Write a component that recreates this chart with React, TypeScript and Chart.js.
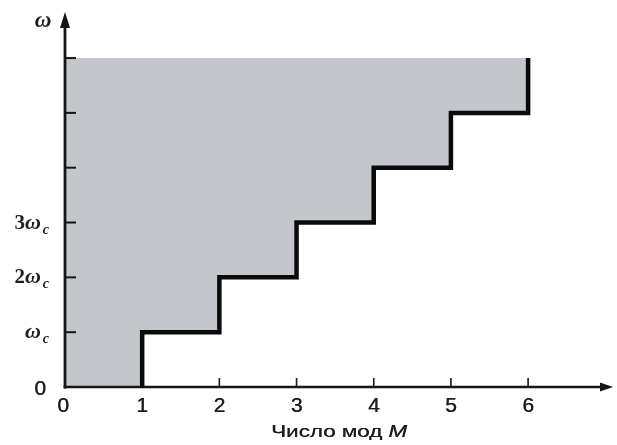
import React, { useEffect, useRef } from 'react';
import { Chart, registerables } from 'chart.js';

Chart.register(...registerables);

// ---- data ----
const modeTickValues = [0, 1, 2, 3, 4, 5, 6];
const modeTickLabels = ['0', '1', '2', '3', '4', '5', '6'];
const freqTickValues = [1, 2, 3, 4, 5, 6];
const freqLabelValues = [0, 1, 2, 3];
const freqLabels = ['0', 'ω_c', '2ω_c', '3ω_c'];
// staircase: number of modes M vs cutoff frequency (units of ω_c)
const stairModes = [1, 1, 2, 2, 3, 3, 4, 4, 5, 5, 6, 6];
const stairFreqs = [0, 1, 1, 2, 2, 3, 3, 4, 4, 5, 5, 6];
const freqTop = 6;
const modeAxisMax = 7.1;
const freqAxisMax = 6.84;
const xTitle = 'Число мод ';
const xTitleVar = 'M';
const yTitle = 'ω';

const INK = '#161616';

const axesPlugin = {
  id: 'axesArrows',
  afterDatasetsDraw(chart: any) {
    const { ctx, chartArea, scales } = chart;
    const x = scales.x;
    const y = scales.y;
    const x0 = x.getPixelForValue(0);
    const y0 = y.getPixelForValue(0);
    ctx.save();
    ctx.strokeStyle = INK;
    ctx.fillStyle = INK;
    ctx.lineWidth = 2;
    freqTickValues.forEach((v) => {
      const py = y.getPixelForValue(v);
      ctx.beginPath();
      ctx.moveTo(x0, py);
      ctx.lineTo(x0 + 11, py);
      ctx.stroke();
    });
    ctx.lineWidth = 1.6;
    modeTickValues.slice(1).forEach((v) => {
      const px = x.getPixelForValue(v);
      ctx.beginPath();
      ctx.moveTo(px, y0);
      ctx.lineTo(px, y0 - 9);
      ctx.stroke();
    });
    ctx.lineWidth = 2.8;
    ctx.beginPath();
    ctx.moveTo(x0, y0 + 1.4);
    ctx.lineTo(x0, chartArea.top + 10);
    ctx.stroke();
    ctx.lineWidth = 2.4;
    ctx.beginPath();
    ctx.moveTo(x0 - 1.4, y0);
    ctx.lineTo(chartArea.right - 8, y0);
    ctx.stroke();
    ctx.beginPath();
    ctx.moveTo(x0, chartArea.top);
    ctx.lineTo(x0 - 5, chartArea.top + 16);
    ctx.lineTo(x0 + 5, chartArea.top + 16);
    ctx.closePath();
    ctx.fill();
    ctx.beginPath();
    ctx.moveTo(chartArea.right, y0);
    ctx.lineTo(chartArea.right - 13, y0 - 4.5);
    ctx.lineTo(chartArea.right - 13, y0 + 4.5);
    ctx.closePath();
    ctx.fill();
    // staircase drawn through the scales
    ctx.strokeStyle = '#0a0a0a';
    ctx.lineWidth = 4.5;
    ctx.lineJoin = 'miter';
    ctx.lineCap = 'butt';
    ctx.beginPath();
    stairModes.forEach((m, i) => {
      const px = x.getPixelForValue(m);
      const py = y.getPixelForValue(stairFreqs[i]);
      if (i === 0) ctx.moveTo(px, py + 1);
      else ctx.lineTo(px, py);
    });
    ctx.stroke();
    ctx.restore();
  },
  afterDraw(chart: any) {
    const { ctx, chartArea, scales } = chart;
    const x = scales.x;
    const y = scales.y;
    const x0 = x.getPixelForValue(0);
    const y0 = y.getPixelForValue(0);
    ctx.save();
    ctx.fillStyle = '#1e1e1e';
    const sansBold = '21px "Liberation Sans", Arial, sans-serif';
    ctx.font = sansBold;
    ctx.textAlign = 'center';
    ctx.textBaseline = 'alphabetic';
    modeTickValues.forEach((v, i) => {
      const px = x.getPixelForValue(v) - (v === 0 ? 2 : 0);
      ctx.fillText(modeTickLabels[i], px, y0 + 25);
      ctx.fillText(modeTickLabels[i], px + 0.5, y0 + 25);
    });
    const rightEdge = x0 - 16;
    freqLabelValues.forEach((v, i) => {
      const py = y.getPixelForValue(v);
      const lab = freqLabels[i];
      if (!lab.includes('ω')) {
        ctx.font = sansBold;
        ctx.textAlign = 'right';
        ctx.fillText(lab, rightEdge - 3, py + 8);
        ctx.fillText(lab, rightEdge - 2.5, py + 8);
        return;
      }
      const [main, sub] = lab.split('_');
      const num = main.replace('ω', '');
      ctx.textAlign = 'left';
      const fNum = 'bold 21px "Liberation Serif", serif';
      const fOm = 'bold italic 22px "Liberation Serif", serif';
      const fSub = 'bold italic 14px "Liberation Serif", serif';
      ctx.font = fNum;
      const wNum = num ? ctx.measureText(num).width : 0;
      ctx.font = fOm;
      const wOm = ctx.measureText('ω').width;
      ctx.font = fSub;
      const wSub = ctx.measureText(sub).width;
      let cx = rightEdge - (wNum + wOm + 2 + wSub);
      const base = py + 6;
      if (num) {
        ctx.font = fNum;
        ctx.fillText(num, cx, base);
        cx += wNum;
      }
      ctx.font = fOm;
      ctx.fillText('ω', cx, base);
      cx += wOm + 2;
      ctx.font = fSub;
      ctx.fillText(sub, cx, base + 5);
    });
    ctx.font = 'bold italic 23px "Liberation Serif", serif';
    ctx.textAlign = 'center';
    ctx.fillText(yTitle, x0 - 22, chartArea.top + 15);
    ctx.save();
    const cxT = x.getPixelForValue(3.55);
    ctx.translate(cxT, y0 + 50);
    ctx.scale(1.4, 1);
    const fT = '16px "Liberation Sans", Arial, sans-serif';
    const fTi = 'italic 16px "Liberation Sans", Arial, sans-serif';
    ctx.font = fT;
    const w1 = ctx.measureText(xTitle).width;
    ctx.font = fTi;
    const w2 = ctx.measureText(xTitleVar).width;
    const start = -(w1 + w2) / 2;
    ctx.textAlign = 'left';
    ctx.font = fT;
    ctx.fillText(xTitle, start, 0);
    ctx.fillText(xTitle, start + 0.3, 0);
    ctx.font = fTi;
    ctx.fillText(xTitleVar, start + w1, 0);
    ctx.fillText(xTitleVar, start + w1 + 0.3, 0);
    ctx.restore();
    ctx.restore();
  },
};

export default function App() {
  const canvasRef = useRef<HTMLCanvasElement | null>(null);

  useEffect(() => {
    document.body.style.margin = '0';
    const canvas = canvasRef.current;
    if (!canvas) return;
    const stairPoints = stairModes.map((m, i) => ({ x: m, y: stairFreqs[i] }));
    const fillPoints = [{ x: 0, y: 0 }, ...stairPoints];
    const chart = new Chart(canvas, {
      type: 'scatter',
      data: {
        datasets: [
          {
            data: fillPoints,
            showLine: true,
            borderColor: 'rgba(0,0,0,0)',
            borderWidth: 0,
            pointRadius: 0,
            backgroundColor: '#c3c6cb',
            fill: { value: freqTop } as any,
            tension: 0,
          },
        ],
      },
      options: {
        animation: false,
        responsive: false,
        maintainAspectRatio: false,
        layout: { padding: { left: 65, right: 4, top: 12, bottom: 58 } },
        plugins: { legend: { display: false }, tooltip: { enabled: false } },
        scales: {
          x: { type: 'linear', min: 0, max: modeAxisMax, display: false },
          y: { type: 'linear', min: 0, max: freqAxisMax, display: false },
        },
      },
      plugins: [axesPlugin],
    });
    return () => chart.destroy();
  }, []);

  return (
    <div style={{ position: 'absolute', left: 0, top: 0, width: 617, height: 445, background: '#fff' }}>
      <canvas ref={canvasRef} width={617} height={445} />
    </div>
  );
}
